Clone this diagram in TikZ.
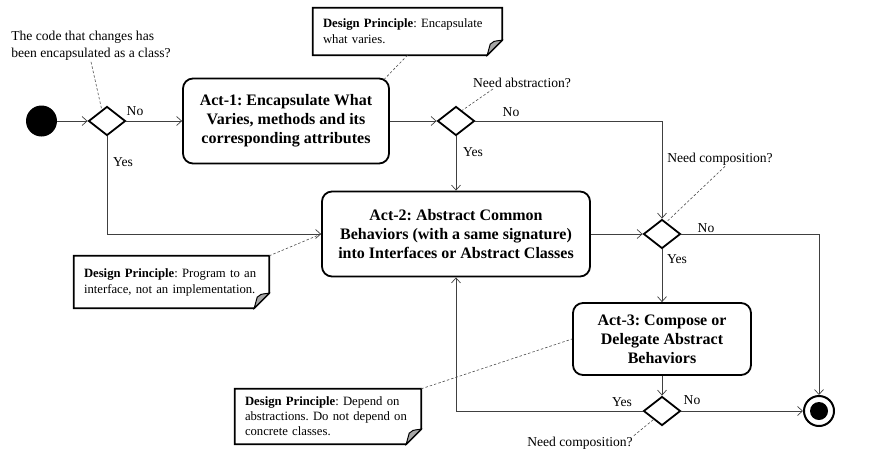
\documentclass[tikz,border=0pt]{standalone}
\usepackage{fontspec}
\setmainfont{Liberation Serif}
\usetikzlibrary{calc,shapes.geometric,arrows.meta}
\frenchspacing

\begin{document}
\begin{tikzpicture}[x=1pt,y=-1pt,
    txt/.style={font=\fontsize{13.6}{17}\selectfont, inner sep=1pt},
    act/.style={draw, line width=1.8pt, rectangle, rounded corners=10pt, align=center,
      inner sep=0pt, font=\fontsize{16}{19}\selectfont\bfseries},
    decision/.style={draw, line width=1.8pt, diamond, minimum width=37, minimum height=29, inner sep=0pt},
    note/.style={align=left, inner xsep=10pt, inner ysep=0pt, font=\fontsize{12.7}{16}\selectfont},
    flow/.style={draw=black!75, line width=0.7pt, -{Straight Barb[length=5pt,width=9pt]}},
    link/.style={draw=black!70, line width=0.6pt, dash pattern=on 2.5pt off 2pt}]
      \useasboundingbox (0,0) rectangle (877,450);

      \node (start) at (41.5,121) [circle, fill, minimum size=31, inner sep=0pt] {};
      \node (d1) at (107,121) [decision] {};
      \node (act1) at (286,121) [act, minimum width=206, minimum height=85]
        {Act-1: Encapsulate What\\Varies, methods and its\\corresponding attributes};
      \node (d2) at (456,121) [decision] {};
      \node (act2) at (456,234) [act, minimum width=268, minimum height=85]
        {Act-2: Abstract Common\\Behaviors (with a same signature)\\into Interfaces or Abstract Classes};
      \node (d3) at (662,234) [decision] {};
      \node (act3) at (662,339) [act, minimum width=178, minimum height=72]
        {Act-3: Compose or\\Delegate Abstract\\Behaviors};
      \node (d4) at (662,411) [decision] {};
      \node (end) at (819,411) [circle, draw, line width=2pt, minimum size=30, inner sep=0pt,
        path picture={\fill (path picture bounding box.center) circle (9pt);}] {};

      % questions
      \node (q1) at (91,46) [txt, align=left] {The code that changes has\\been encapsulated as a class?};
      \node (q2) at (522,83) [txt] {Need abstraction?};
      \node (q3) at (720,159) [txt] {Need composition?};
      \node (q4) at (580,443) [txt] {Need composition?};

      % design notes
      \node (note1) at (407.5,31.5) [note, text width=169, minimum height=47]
        {\textbf{Design Principle}: Encapsulate\\what varies.};
      \node (note2) at (171.5,282) [note, text width=175, minimum height=52]
        {\textbf{Design Principle}: Program to an\\interface, not an implementation.};
      \node (note3) at (328,416.5) [note, text width=166, minimum height=55,
        font=\fontsize{12.7}{15}\selectfont]
        {\textbf{Design Principle}: Depend on\\abstractions. Do not depend on\\concrete classes.};
      \foreach \n in {note1,note2,note3} {
        \draw[line width=1.8pt] (\n.north west) -- (\n.north east) -- ($(\n.south east)+(0,-15)$)
          -- ($(\n.south east)+(-15,0)$) -- (\n.south west) -- cycle;
        \filldraw[fill=black!35, line width=1pt] ($(\n.south east)+(0,-15)$)
          .. controls ($(\n.south east)+(-9,-14)$) .. ($(\n.south east)+(-12,-11)$)
          -- ($(\n.south east)+(-15,0)$) -- cycle;
      }

      % guards
      \draw (135,111) node (no1) [txt] {No};
      \draw (123,162) node (yes1) [txt] {Yes};
      \draw (511,112) node (no2) [txt] {No};
      \draw (473,152) node (yes2) [txt] {Yes};
      \draw (706,228) node (no3) [txt] {No};
      \draw (677,259) node (yes3) [txt] {Yes};
      \draw (622,402) node (yes4) [txt] {Yes};
      \draw (692,400) node (no4) [txt] {No};

      \draw[flow] (start) -- (d1);
      \draw[flow] (d1) -- (act1);
      \draw[flow] (act1) -- (d2);
      \draw[flow] (d2.east) -| (d3.north);
      \draw[flow] (d2.south) -- (act2.north);
      \draw[flow] (d1.south) |- (act2.west);
      \draw[flow] (act2.east) -- (d3.west);
      \draw[flow] (d3.east) -| (end.north);
      \draw[flow] (d3.south) -- (act3.north);
      \draw[flow] (act3.south) -- (d4.north);
      \draw[flow] (d4.east) -- (end.west);
      \draw[flow] (d4.west) -| (act2.south);

      \draw[link] (q1.south) -- (d1.115);
      \draw[link] (note1.south) -- ($(act1.north east)+(-6,2)$);
      \draw[link] ($(q2.south west)+(21,0)$) -- (d2.60);
      \draw[link] ($(q3.south)+(5,0)$) -- (d3.70);
      \draw[link] (note2.north east) -- (act2.west);
      \draw[link] (note3.north east) -- (act3.west);
      \draw[link] (q4.north east) -- (d4.225);
    \end{tikzpicture}
\end{document}
